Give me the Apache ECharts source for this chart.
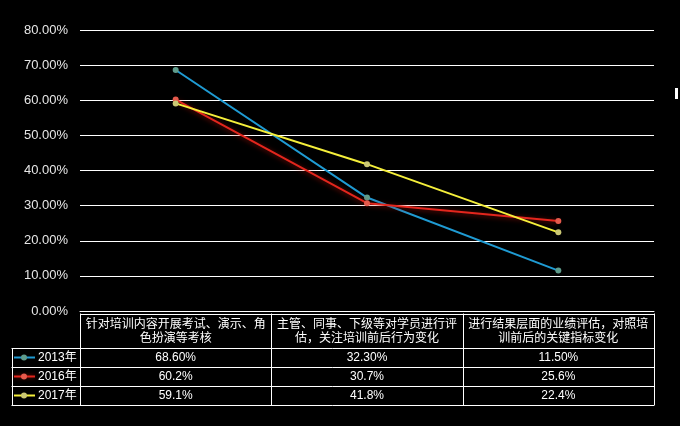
<!DOCTYPE html>
<html>
<head>
<meta charset="utf-8">
<script src="https://cdn.jsdelivr.net/npm/echarts@6/dist/echarts.min.js"></script>
<style>
html,body{margin:0;padding:0;background:#000;}
#c{width:680px;height:426px;}
</style>
</head>
<body>
<div id="c"></div>
<script>
const categories = [
  '针对培训内容开展考试、演示、角色扮演等考核',
  '主管、同事、下级等对学员进行评估，关注培训前后行为变化',
  '进行结果层面的业绩评估，对照培训前后的关键指标变化'
];
const seriesNames = ['2013年', '2016年', '2017年'];
const values2013 = [68.6, 32.3, 11.5];
const values2016 = [60.2, 30.7, 25.6];
const values2017 = [59.1, 41.8, 22.4];
const tableDecimals = [2, 1, 1];
const yTicks = [0, 10, 20, 30, 40, 50, 60, 70, 80];

const allValues = [values2013, values2016, values2017];
const lineColors = ['#1f9bd3', '#e3261d', '#f5ef3b'];
const markerColors = ['#5f9c8c', '#e65a4c', '#cbc874'];
const glowColors = ['rgba(0,0,0,0)', 'rgba(190,20,10,0.7)', 'rgba(0,0,0,0)'];
const FONT = '"Liberation Sans", Arial, "Noto Sans CJK SC", sans-serif';

const chart = echarts.init(document.getElementById('c'), null, {renderer: 'canvas'});

const series = seriesNames.map((name, i) => ({
  name: name,
  type: 'line',
  data: allValues[i],
  symbol: 'circle',
  symbolSize: 6,
  lineStyle: {color: lineColors[i], width: 2, shadowColor: glowColors[i], shadowBlur: 5, shadowOffsetY: 1},
  itemStyle: {color: markerColors[i], borderWidth: 0},
  emphasis: {disabled: true},
  z: 3 + i
}));

chart.setOption({
  backgroundColor: '#000',
  animation: false,
  grid: {left: 80, right: 26, top: 30, bottom: 115},
  xAxis: {
    type: 'category',
    data: categories,
    boundaryGap: true,
    axisLine: {show: true, lineStyle: {color: '#ffffff', width: 1}},
    axisTick: {show: false},
    axisLabel: {show: false}
  },
  yAxis: {
    type: 'value',
    min: yTicks[0],
    max: yTicks[yTicks.length - 1],
    interval: 10,
    axisLine: {show: false},
    axisTick: {show: false},
    axisLabel: {
      color: '#e6e6e6', fontSize: 13, fontFamily: FONT, margin: 12,
      formatter: v => v.toFixed(2) + '%'
    },
    splitLine: {lineStyle: {color: '#ffffff', width: 1}}
  },
  series: series
});

// Build the data table under the plot from the axis scale
const centers = categories.map(c => chart.convertToPixel({xAxisIndex: 0}, c));
const band = centers[1] - centers[0];
const leftX = centers[0] - band / 2;
const rightX = centers[centers.length - 1] + band / 2;
const zeroY = chart.convertToPixel({yAxisIndex: 0}, 0);
const tableTop = zeroY + 2.5;
const headerBottom = tableTop + 34.5;
const rowH = 19;
const legendLeft = 11.5;
const rows = seriesNames.length;
const tableBottom = headerBottom + rows * rowH;

const g = [];
const lineStyle = {stroke: '#ffffff', lineWidth: 1};
function hline(x1, x2, y) {
  g.push({type: 'line', shape: {x1: x1, y1: Math.round(y) + 0.5, x2: x2, y2: Math.round(y) + 0.5}, style: lineStyle, silent: true});
}
function vline(x, y1, y2) {
  g.push({type: 'line', shape: {x1: Math.round(x) + 0.5, y1: y1, x2: Math.round(x) + 0.5, y2: y2}, style: lineStyle, silent: true});
}
hline(leftX, rightX, tableTop);
hline(legendLeft, rightX, headerBottom);
for (let r = 1; r <= rows; r++) hline(legendLeft, rightX, headerBottom + r * rowH);
vline(legendLeft, headerBottom, tableBottom + 0.5);
for (let c = 0; c <= categories.length; c++) {
  vline(leftX + c * band - (c === 0 ? 0.5 : 0), tableTop, tableBottom + 0.5);
}
// header text
categories.forEach((cat, c) => {
  g.push({
    type: 'text', silent: true,
    style: {
      x: centers[c], y: (tableTop + headerBottom) / 2 + 1,
      text: cat, width: band - 4, overflow: 'break',
      align: 'center', verticalAlign: 'middle',
      fill: '#ffffff', font: '12px ' + FONT, lineHeight: 14
    }
  });
});
// rows
seriesNames.forEach((name, r) => {
  const cy = headerBottom + r * rowH + rowH / 2;
  g.push({type: 'line', silent: true, shape: {x1: 14, y1: cy, x2: 35, y2: cy}, style: {stroke: lineColors[r], lineWidth: 2, shadowColor: glowColors[r], shadowBlur: 4}});
  g.push({type: 'circle', silent: true, shape: {cx: 24, cy: cy, r: 3}, style: {fill: markerColors[r]}});
  g.push({type: 'text', silent: true, style: {x: 38, y: cy, text: name, align: 'left', verticalAlign: 'middle', fill: '#ffffff', font: '12px ' + FONT}});
  allValues[r].forEach((v, c) => {
    g.push({type: 'text', silent: true, style: {
      x: centers[c], y: cy, text: v.toFixed(tableDecimals[r]) + '%',
      align: 'center', verticalAlign: 'middle', fill: '#ffffff', font: '12px ' + FONT
    }});
  });
});
// small white mark at right edge
g.push({type: 'rect', silent: true, shape: {x: 675, y: 88, width: 3, height: 11}, style: {fill: '#ffffff'}});

chart.setOption({graphic: g});
</script>
</body>
</html>
